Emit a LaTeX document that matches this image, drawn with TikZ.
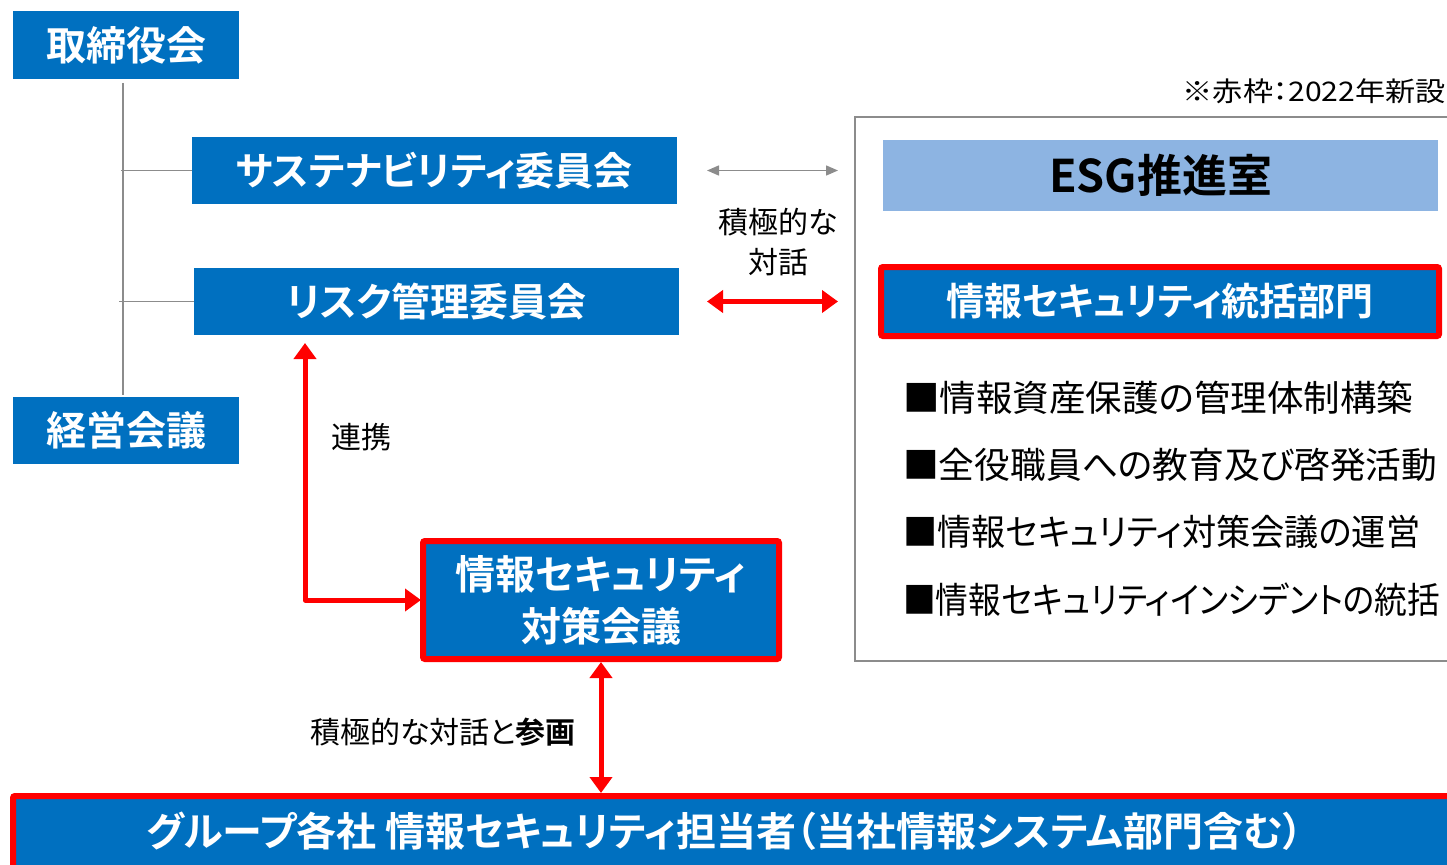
\documentclass[tikz,border=0pt]{standalone}
\usepackage{fontspec}
\usepackage{graphicx}
\setmainfont{Noto Sans CJK JP}[RawFeature=+palt, BoldFont=* Bold]
\usetikzlibrary{arrows.meta,calc}
\definecolor{boxblue}{HTML}{0070C0}
\definecolor{esgblue}{HTML}{8DB4E2}
\definecolor{linegray}{HTML}{8C8C8C}
\newcommand{\fitw}[2]{\resizebox{#1}{\height}{#2}}
\begin{document}
\begin{tikzpicture}[x=1pt,y=-1pt,
  bluebox/.style={fill=boxblue, text=white, font=\bfseries\fontsize{40}{48}\selectfont, inner sep=0pt, outer sep=0pt},
  newbox/.style={bluebox, draw=red, line width=6pt, rounded corners=2pt},
  orgline/.style={draw=linegray, line width=1.5pt},
  redarrow/.style={draw=red, line width=5pt, line join=round, {Triangle[width=22pt,length=16pt]}-{Triangle[width=22pt,length=16pt]}},
  grayarrow/.style={draw=linegray, line width=1.5pt, {Triangle[width=10pt,length=12pt]}-{Triangle[width=10pt,length=12pt]}},
  plain/.style={text=black, font=\fontsize{30}{40}\selectfont, inner sep=0pt},
  bullet/.style={plain, anchor=west, font=\fontsize{36}{44}\selectfont}
]
\useasboundingbox (0,0) rectangle (1447,864);
\clip (0,0) rectangle (1447,864);

% outer gray frame of ESG office
\node[draw=linegray, line width=2pt, minimum width=605pt, minimum height=544pt, inner sep=0pt, outer sep=0pt] (esgframe) at (1157.5,389) {};

% left hierarchy
\node[bluebox, minimum width=226pt, minimum height=68pt] (tori) at (126,45) {取締役会};
\node[bluebox, minimum width=226pt, minimum height=67pt] (keiei) at (126,430.5) {経営会議};
\node[bluebox, minimum width=485pt, minimum height=67pt, font=\bfseries\fontsize{39}{47}\selectfont] (sust) at (434.5,170.5) {サステナビリティ委員会};
\node[bluebox, minimum width=485pt, minimum height=67pt, font=\bfseries\fontsize{39}{47}\selectfont] (risk) at (436.5,301.5) {リスク管理委員会};

\draw[orgline] ([xshift=-3pt, yshift=-4pt]tori.south) -- ([xshift=-3pt, yshift=2pt]keiei.north);
\draw[orgline] (sust.west) -- ([xshift=-5pt]sust.west -| tori.south);
\draw[orgline] (risk.west) -- ([xshift=-7pt]risk.west -| tori.south);

% note
\node[plain, anchor=east, font=\fontsize{27}{32}\selectfont] (note) at (1446,91) {\fitw{263pt}{※赤枠：2022年新設}};

% ESG office contents
\node[fill=esgblue, text=black, font=\bfseries\fontsize{45}{52}\selectfont, minimum width=555pt, minimum height=71pt, inner sep=0pt] (esg) at (1160.5,175.5) {ESG推進室};
\node[newbox, minimum width=558pt, minimum height=69pt, font=\bfseries\fontsize{38}{46}\selectfont] (tokatsu) at (1160,301.5) {情報セキュリティ統括部門};

\node[bullet] (b1) at (903,398) {\fitw{510pt}{■情報資産保護の管理体制構築}};
\node[bullet] (b2) at (903,465) {\fitw{534pt}{■全役職員への教育及び啓発活動}};
\node[bullet] (b3) at (903,532) {\fitw{517pt}{■情報セキュリティ対策会議の運営}};
\node[bullet] (b4) at (903,600) {\fitw{537pt}{■情報セキュリティインシデントの統括}};

% dialogue arrows
\coordinate (gL) at ([xshift=30pt]sust.east);
\coordinate (gR) at (esgframe.west |- sust.east);
\draw[grayarrow] (gL) -- ([xshift=-17pt]gR);
\node[plain, align=center] (dialog) at (778,242) {積極的な\\対話};
\coordinate (rL) at ([xshift=28pt]risk.east);
\coordinate (rR) at (esgframe.west |- risk.east);
\draw[redarrow] (rL) -- ([xshift=-17pt]rR);

% security countermeasure council
\node[newbox, minimum width=356pt, minimum height=118pt, align=center, font=\bfseries\fontsize{40}{52}\selectfont] (taisaku) at (601,600) {情報セキュリティ\\対策会議};
\coordinate (elbowtop) at (305,343);
\draw[redarrow, shorten >=2pt] (elbowtop) |- (taisaku.west);
\node[plain] (renkei) at (361,437) {連携};

% bottom bar
\node[newbox, minimum width=1447pt, minimum height=84pt] (bar) at (736.5,838) {};
\node[text=white, font=\bfseries\fontsize{40}{48}\selectfont, inner sep=0pt] (bartext) at (725,831) {グループ各社 情報セキュリティ担当者（当社情報システム部門含む）};

\draw[redarrow, shorten <=3pt, shorten >=3pt] (taisaku.south) -- (taisaku.south |- bar.north);
\node[plain] (sankaku) at (443,732) {積極的な対話と{\bfseries 参画}};
\end{tikzpicture}
\end{document}
